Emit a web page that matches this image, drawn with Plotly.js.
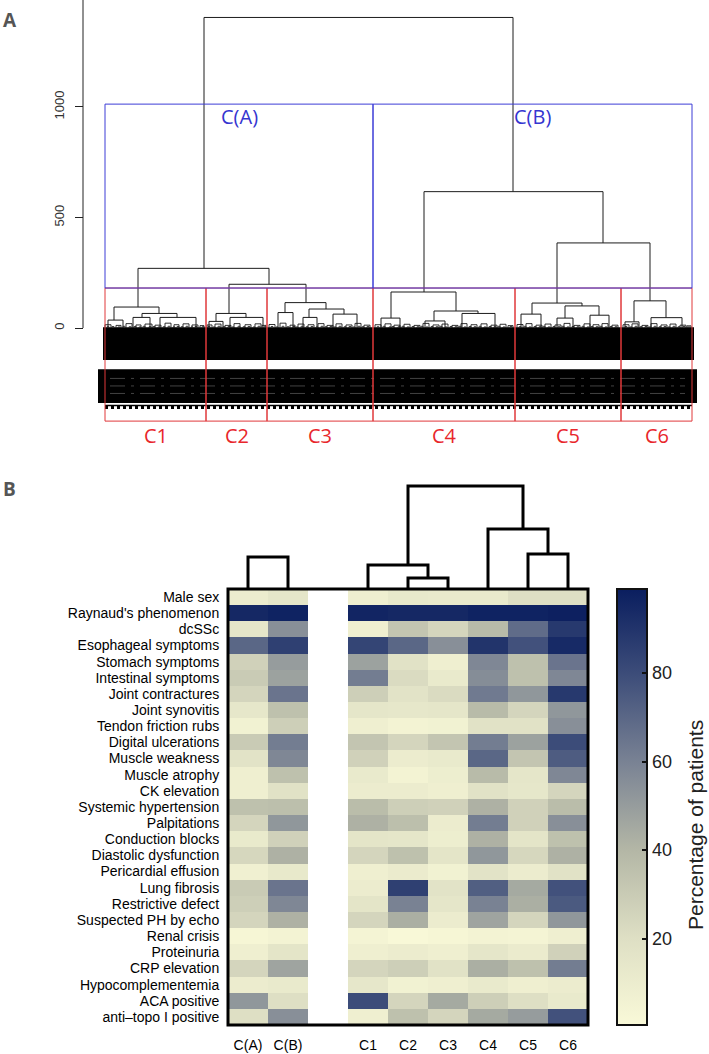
<!DOCTYPE html>
<html><head><meta charset="utf-8">
<script src="https://cdn.plot.ly/plotly-3.0.1.min.js"></script>
<style>html,body{margin:0;padding:0;background:#fff}#chart{width:709px;height:1054px}</style>
</head><body><div id="chart"></div>
<script>
// ================= Panel A: patient dendrogram =================
// merges: [xLeft, xRight, height, leftChildHeight, rightChildHeight]
const treeMerges = [
  [99,408,1405,270,617],
  [33,164,270,95,198],
  [9,54,95,36,66],[3,18,36,0,0],[37,72,66,48,48],[28,45,48,0,0],[55,91,48,0,0],
  [124,201,198,66,115],
  [111,141,66,30,48],[104,118,30,0,0],[125,158,48,0,0],
  [180,221,115,70,86],[173,188,70,0,0],[204,239,86,48,63],[198,212,48,0,0],[228,252,63,0,0],
  [319,498,617,163,385],
  [286,351,163,45,77],[276,295,45,0,0],[329,373,77,32,66],[320,340,32,0,0],[357,390,66,0,0],
  [452,545,385,113,123],
  [427,477,113,63,100],[416,436,63,0,0],[460,494,100,45,58],[452,468,45,0,0],[485,504,58,0,0],
  [529,561,123,28,47],[520,534,28,0,0],[546,577,47,0,0]
];
// small low-level merges near the leaves: [xLeft, xRight, height]
const fringeMerges = [
  [0,6,15],[11,16,12],[21,27,20],[31,36,14],[40,47,18],[50,56,13],[60,66,22],[69,74,15],[78,84,19],[87,93,14],[95,99,11],
  [102,107,14],[110,116,18],[120,126,12],[129,135,20],[140,146,15],[150,156,19],[157,161,12],
  [164,170,16],[175,181,22],[185,190,13],[193,199,18],[203,209,15],[213,219,20],[222,228,12],[231,237,19],[241,247,14],[250,256,21],[259,265,13],
  [270,276,15],[280,286,19],[289,295,13],[299,305,17],[309,315,12],[318,324,21],[328,334,14],[337,343,18],[347,353,12],[356,362,20],[366,372,15],[376,382,19],[386,392,13],[395,401,17],[403,408,11],
  [412,418,16],[421,427,20],[431,437,13],[440,446,18],[450,456,14],[459,465,21],[469,475,12],[479,485,19],[488,494,15],[497,503,20],[507,513,13],
  [518,524,15],[527,533,19],[537,543,12],[546,552,20],[556,562,14],[565,571,18],[575,581,13],[582,586,10]
];
// the tiniest merges right above the leaf labels: [xLeft, xRight, height]
const leafMerges = [
  [2,4,6],[7,9,7],[13,15,5],[18,20,8],[24,26,6],[29,31,7],[34,36,5],[38,40,8],[44,46,6],[48,50,7],[53,55,5],[58,60,6],[63,65,8],[68,70,5],[72,74,7],[76,78,6],[81,83,8],[86,88,5],[90,92,7],[97,99,6],
  [103,105,7],[108,110,5],[113,115,8],[118,120,6],[123,125,7],[127,129,5],[133,135,8],[138,140,6],[143,145,7],[148,150,5],[153,155,8],[159,161,6],
  [166,168,7],[171,173,5],[177,179,8],[182,184,6],[188,190,7],[191,193,5],[196,198,8],[201,203,6],[206,208,7],[211,213,5],[216,218,8],[220,222,6],[225,227,7],[229,231,5],[234,236,8],[239,241,6],[244,246,7],[248,250,5],[253,255,8],[257,259,6],[262,264,7],
  [272,274,6],[278,280,8],[284,286,5],[287,289,7],[293,295,6],[297,299,8],[302,304,5],[307,309,7],[312,314,6],[316,318,8],[321,323,5],[326,328,7],[331,333,6],[335,337,8],[340,342,5],[345,347,7],[350,352,6],[354,356,8],[359,361,5],[364,366,7],[369,371,6],[374,376,8],[379,381,5],[384,386,7],[389,391,6],[393,395,8],[398,400,5],[405,407,7],
  [414,416,6],[419,421,8],[424,426,5],[429,431,7],[434,436,6],[438,440,8],[443,445,5],[448,450,7],[453,455,6],[457,459,8],[462,464,5],[467,469,7],[472,474,6],[477,479,8],[482,484,5],[486,488,7],[491,493,6],[495,497,8],[500,502,5],[505,507,7],[510,512,6],
  [520,522,7],[525,527,5],[530,532,8],[535,537,6],[540,542,7],[544,546,5],[549,551,8],[554,556,6],[559,561,7],[563,565,5],[568,570,8],[573,575,6],[578,580,7],[583,585,5]
];
const clusterNames = ['C1','C2','C3','C4','C5','C6'];
const clusterBounds = [0,101,162,268,410,516,587];
const superNames = ['C(A)','C(B)'];
const superBounds = [0,268,587];
const clusterCut = 181;
const superCut = 1013;
const boxBottom = -421;
const leafLabelBand = [-2,589,-145,3];     // xL, xR, yBottom, yTop
const leafLabelBand2 = [-5,590,-330,-195];
const band2Streaks = [-228,-262,-296];
const leafTickRow = -350;
const heightTicks = [0,500,1000];

// ================= Panel B: heatmap =================
const features = ['Male sex',"Raynaud's phenomenon",'dcSSc','Esophageal symptoms','Stomach symptoms','Intestinal symptoms','Joint contractures','Joint synovitis','Tendon friction rubs','Digital ulcerations','Muscle weakness','Muscle atrophy','CK elevation','Systemic hypertension','Palpitations','Conduction blocks','Diastolic dysfunction','Pericardial effusion','Lung fibrosis','Restrictive defect','Suspected PH by echo','Renal crisis','Proteinuria','CRP elevation','Hypocomplementemia','ACA positive','anti\u2013topo I positive'];
const groups = ['C(A)','C(B)','','C1','C2','C3','C4','C5','C6'];
const pctCA = [10,95,15,70,27,30,25,14,6,30,17,8,8,35,25,12,24,7,30,28,25,3,8,25,10,52,20];
const pctCB = [15,97,55,85,50,48,65,35,28,62,58,35,18,36,52,27,42,13,65,58,42,5,16,47,12,20,55];
const pctC1 = [8,96,8,83,48,62,28,15,8,33,27,12,10,37,42,16,25,8,10,16,25,4,8,25,14,80,8];
const pctC2 = [13,95,33,70,18,22,17,14,5,25,10,5,10,28,36,15,35,11,85,60,43,1,10,28,6,25,35];
const pctC3 = [12,95,25,55,8,12,22,15,6,33,12,9,8,27,10,9,16,6,17,15,10,3,8,18,8,45,25];
const pctC4 = [12,97,38,90,58,56,63,38,18,62,70,38,18,42,62,42,52,17,73,60,47,5,15,43,12,28,45];
const pctC5 = [20,97,68,78,35,35,52,25,18,48,33,15,14,27,27,16,24,10,45,43,25,4,11,35,8,20,50];
const pctC6 = [20,98,88,94,65,58,88,52,55,80,74,58,25,37,55,35,42,18,78,75,52,8,27,62,10,12,78];
// group dendrogram: [xLeft, xRight, height, leftChildHeight, rightChildHeight] (x = column index)
const groupMerges = [[0,1,32,0,0],[4,5,11,0,0],[3,4.5,24,0,11],[7,8,35,0,0],[6,7.5,60,0,35],[4,6.875,103,24,60]];
const cbTicks = [20,40,60,80];
const cbTitle = 'Percentage of patients';
const zMin = 0.5, zMax = 99;

// ---------- build ----------
function segs(merges){
  const xs=[],ys=[];
  merges.forEach(m=>{const xl=m[0],xr=m[1],h=m[2],lb=m.length>3?m[3]:0,rb=m.length>4?m[4]:0;
    xs.push(xl,xl,xr,xr,null); ys.push(lb,h,h,rb,null);});
  return {xs,ys};
}
const W=709,H=1054;
const px=x=>x/W, py=y=>1-y/H;

const t1=segs(treeMerges), t2=segs(fringeMerges), t4=segs(leafMerges), t3=segs(groupMerges);
const cols=[pctCA,pctCB,null,pctC1,pctC2,pctC3,pctC4,pctC5,pctC6];
const z=features.map((f,i)=>cols.map(c=>c?c[i]:null));

const hmX=[px(228),px(588)], hmY=[py(1025),py(589)];
const dgY=[py(589),py(479)];
const cbLenFrac=hmY[1]-hmY[0];
const ff='Arial, "Liberation Sans", sans-serif';

const traces=[
  {type:'scatter',mode:'lines',x:t1.xs,y:t1.ys,xaxis:'x',yaxis:'y',line:{color:'#1c1c1c',width:1},hoverinfo:'skip',showlegend:false},
  {type:'scatter',mode:'lines',x:t2.xs,y:t2.ys,xaxis:'x',yaxis:'y',line:{color:'#1c1c1c',width:0.9},hoverinfo:'skip',showlegend:false},
  {type:'scatter',mode:'lines',x:t4.xs,y:t4.ys,xaxis:'x',yaxis:'y',line:{color:'#1c1c1c',width:0.8},hoverinfo:'skip',showlegend:false},
  {type:'heatmap',z:z,x:groups.map((g,i)=>i),y:features.map((f,i)=>i),xaxis:'x2',yaxis:'y2',zmin:zMin,zmax:zMax,
   colorscale:[[0,'rgb(249,249,216)'],[0.2,'rgb(222,223,196)'],[0.4,'rgb(180,183,166)'],[0.6,'rgb(122,131,148)'],[0.8,'rgb(62,78,122)'],[1,'rgb(10,30,95)']],
   hoverinfo:'skip',
   colorbar:{x:px(617),xanchor:'left',xpad:0,y:hmY[0],yanchor:'bottom',ypad:0,len:436,lenmode:'pixels',thickness:30,thicknessmode:'pixels',
     outlinewidth:2,outlinecolor:'#111',tickvals:cbTicks,ticks:'inside',ticklen:6,tickwidth:2,tickcolor:'#111',
     tickfont:{family:ff,size:18,color:'#222'}}},
  {type:'scatter',mode:'lines',x:t3.xs,y:t3.ys,xaxis:'x3',yaxis:'y3',line:{color:'#000',width:3},hoverinfo:'skip',showlegend:false}
];

const shapes=[];
// leaf label mass
shapes.push({type:'rect',xref:'x',yref:'y',x0:leafLabelBand[0],x1:leafLabelBand[1],y0:leafLabelBand[2],y1:leafLabelBand[3],fillcolor:'#000',line:{width:0},layer:'below'});
shapes.push({type:'rect',xref:'x',yref:'y',x0:leafLabelBand2[0],x1:leafLabelBand2[1],y0:leafLabelBand2[2],y1:leafLabelBand2[3],fillcolor:'#000',line:{color:'#000',width:4},layer:'below'});
band2Streaks.forEach(v=>shapes.push({type:'line',xref:'x',yref:'y',x0:leafLabelBand2[0]+10,x1:leafLabelBand2[1]-10,y0:v,y1:v,line:{color:'rgba(120,120,120,0.55)',width:1,dash:'longdashdot'},layer:'below'}));
shapes.push({type:'line',xref:'x',yref:'y',x0:leafLabelBand2[0]+5,x1:leafLabelBand2[1]-3,y0:leafTickRow,y1:leafTickRow,line:{color:'#000',width:1.5},layer:'below'});
shapes.push({type:'line',xref:'x',yref:'y',x0:leafLabelBand2[0]+5,x1:leafLabelBand2[1]-3,y0:leafTickRow-9,y1:leafTickRow-9,line:{color:'#000',width:3,dash:'dot'},layer:'below'});
// cluster boxes
for(let i=0;i<clusterNames.length;i++){
  shapes.push({type:'rect',xref:'x',yref:'y',x0:clusterBounds[i],x1:clusterBounds[i+1],y0:boxBottom,y1:clusterCut,line:{color:'#e0383b',width:1}});
}
for(let i=0;i<superNames.length;i++){
  shapes.push({type:'rect',xref:'x',yref:'y',x0:superBounds[i],x1:superBounds[i+1],y0:clusterCut,y1:superCut,line:{color:'#3d3dd6',width:1}});
}
// panel A height axis line
shapes.push({type:'line',xref:'paper',yref:'y',x0:px(83),x1:px(83),y0:0,y1:1484,line:{color:'#222',width:1}});
// heatmap border
shapes.push({type:'rect',xref:'paper',yref:'paper',x0:hmX[0],x1:hmX[1],y0:hmY[0],y1:hmY[1],line:{color:'#000',width:3}});
// colorbar left-edge ticks
cbTicks.forEach(v=>{const yy=hmY[0]+(v-zMin)/(zMax-zMin)*cbLenFrac;
  shapes.push({type:'line',xref:'paper',yref:'paper',x0:px(617),x1:px(623),y0:yy,y1:yy,line:{color:'#111',width:2}});});

const annotations=[];
annotations.push({text:'<b>A</b>',xref:'paper',yref:'paper',x:px(1),y:py(5),xanchor:'left',yanchor:'top',showarrow:false,font:{family:'"Open Sans", sans-serif',size:19,color:'#555'}});
annotations.push({text:'<b>B</b>',xref:'paper',yref:'paper',x:px(1),y:py(474),xanchor:'left',yanchor:'top',showarrow:false,font:{family:'"Open Sans", sans-serif',size:19,color:'#555'}});
clusterNames.forEach((n,i)=>annotations.push({text:n,xref:'x',yref:'y',x:(clusterBounds[i]+clusterBounds[i+1])/2,y:-484,showarrow:false,font:{family:'"Open Sans", sans-serif',size:20,color:'#e8262b'}}));
superNames.forEach((n,i)=>annotations.push({text:n,xref:'x',yref:'y',x:(superBounds[i]+superBounds[i+1])/2,y:955,showarrow:false,font:{family:'"Open Sans", sans-serif',size:20,color:'#3535d0'}}));
annotations.push({text:cbTitle,xref:'paper',yref:'paper',x:px(695),y:py(825),xanchor:'center',yanchor:'middle',textangle:-90,showarrow:false,font:{family:ff,size:21,color:'#222'}});

const layout={
  width:W,height:H,margin:{l:0,r:0,t:0,b:0},paper_bgcolor:'#fff',plot_bgcolor:'rgba(0,0,0,0)',showlegend:false,
  xaxis:{domain:[0,1],range:[-105,604],visible:false,fixedrange:true},
  yaxis:{domain:[py(460),1],range:[-597,1484],anchor:'free',position:px(83),tickvals:heightTicks,ticks:'outside',ticklen:8,tickcolor:'#222',
    showline:false,showgrid:false,zeroline:false,tickangle:-90,ticklabelstandoff:6,tickfont:{family:ff,size:13,color:'#333'}},
  xaxis2:{domain:hmX,range:[-0.5,8.5],anchor:'y2',tickvals:groups.map((g,i)=>i),ticktext:groups,ticks:'outside',ticklen:7,tickcolor:'rgba(0,0,0,0)',
    showgrid:false,zeroline:false,showline:false,tickfont:{family:ff,size:14,color:'#000'}},
  yaxis2:{domain:hmY,range:[26.5,-0.5],anchor:'x2',tickvals:features.map((f,i)=>i),ticktext:features,ticks:'outside',ticklen:5,tickcolor:'rgba(0,0,0,0)',
    showgrid:false,zeroline:false,showline:false,tickfont:{family:ff,size:14,color:'#000'}},
  xaxis3:{domain:hmX,range:[-0.5,8.5],anchor:'y3',visible:false},
  yaxis3:{domain:dgY,range:[0,110],anchor:'x3',visible:false},
  shapes:shapes,annotations:annotations
};
Plotly.newPlot('chart',traces,layout,{displayModeBar:false,staticPlot:true});
</script></body></html>
